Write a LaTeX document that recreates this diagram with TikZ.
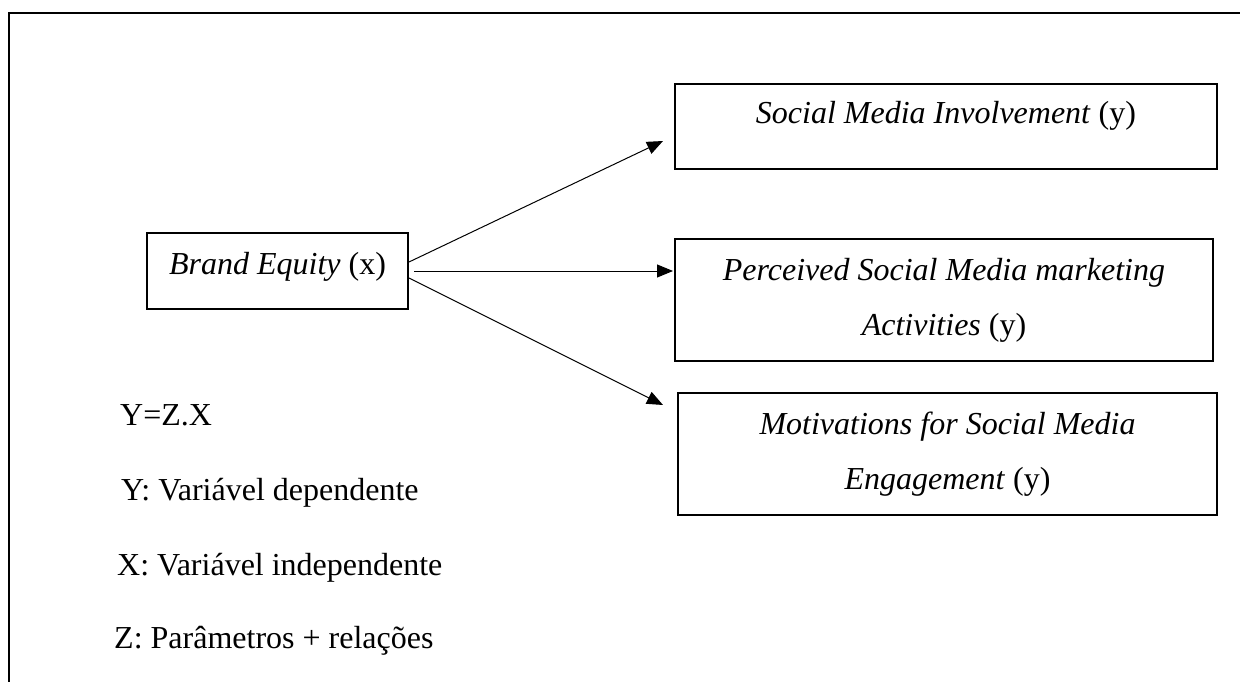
\documentclass[tikz,border=0pt]{standalone}
\usepackage{fontspec}
\setmainfont{Liberation Serif}
\usetikzlibrary{arrows.meta}
\begin{document}
\begin{tikzpicture}[x=1pt,y=-1pt,
  box/.style={draw, line width=2pt, inner sep=0pt, align=center, anchor=north west,
              font=\fontsize{32}{55}\selectfont},
  legend/.style={anchor=base west, inner sep=0pt, font=\fontsize{32}{38}\selectfont},
  arr/.style={line width=1pt, -{Triangle[length=16pt,width=13pt]}}]
\useasboundingbox (0,0) rectangle (1240,682);
\clip (0,0) rectangle (1240,682);
\fill[white] (0,0) rectangle (1240,682);
% outer frame (continues past the right and bottom edges)
\draw[line width=1.8pt] (1260,13) -- (9,13) -- (9,700);
% boxes
\node[box, minimum width=261pt, minimum height=76pt, text height=21pt, text depth=15pt]
  (be) at (146,232) {\textit{Brand Equity} (x)};
\node[box, minimum width=542pt, minimum height=85pt, text height=21pt, text depth=26pt]
  (smi) at (674,83) {\textit{Social Media Involvement} (y)};
\node[box, minimum width=538pt, minimum height=122pt]
  (psm) at (674,238) {\textit{Perceived Social Media marketing}\\\textit{Activities} (y)};
\node[box, minimum width=539pt, minimum height=122pt]
  (msm) at (677,392) {\textit{Motivations for Social Media}\\\textit{Engagement} (y)};
% connectors
\draw[arr] ([yshift=9pt]be.east) -- ([xshift=-11pt,yshift=-14.5pt]smi.west);
\draw[arr] ([xshift=5pt]be.east) -- ([xshift=-1pt,yshift=29pt]psm.west);
\draw[arr] ([yshift=-7pt]be.east) -- ([xshift=-14pt,yshift=49pt]msm.west);
% legend
\node[legend] (eq) at (120,425) {Y=Z.X};
\node[legend] (ly) at (121,500) {Y: Variável dependente};
\node[legend] (lx) at (117,575) {X: Variável independente};
\node[legend] (lz) at (114,648) {Z: Parâmetros + relações};
\end{tikzpicture}
\end{document}
